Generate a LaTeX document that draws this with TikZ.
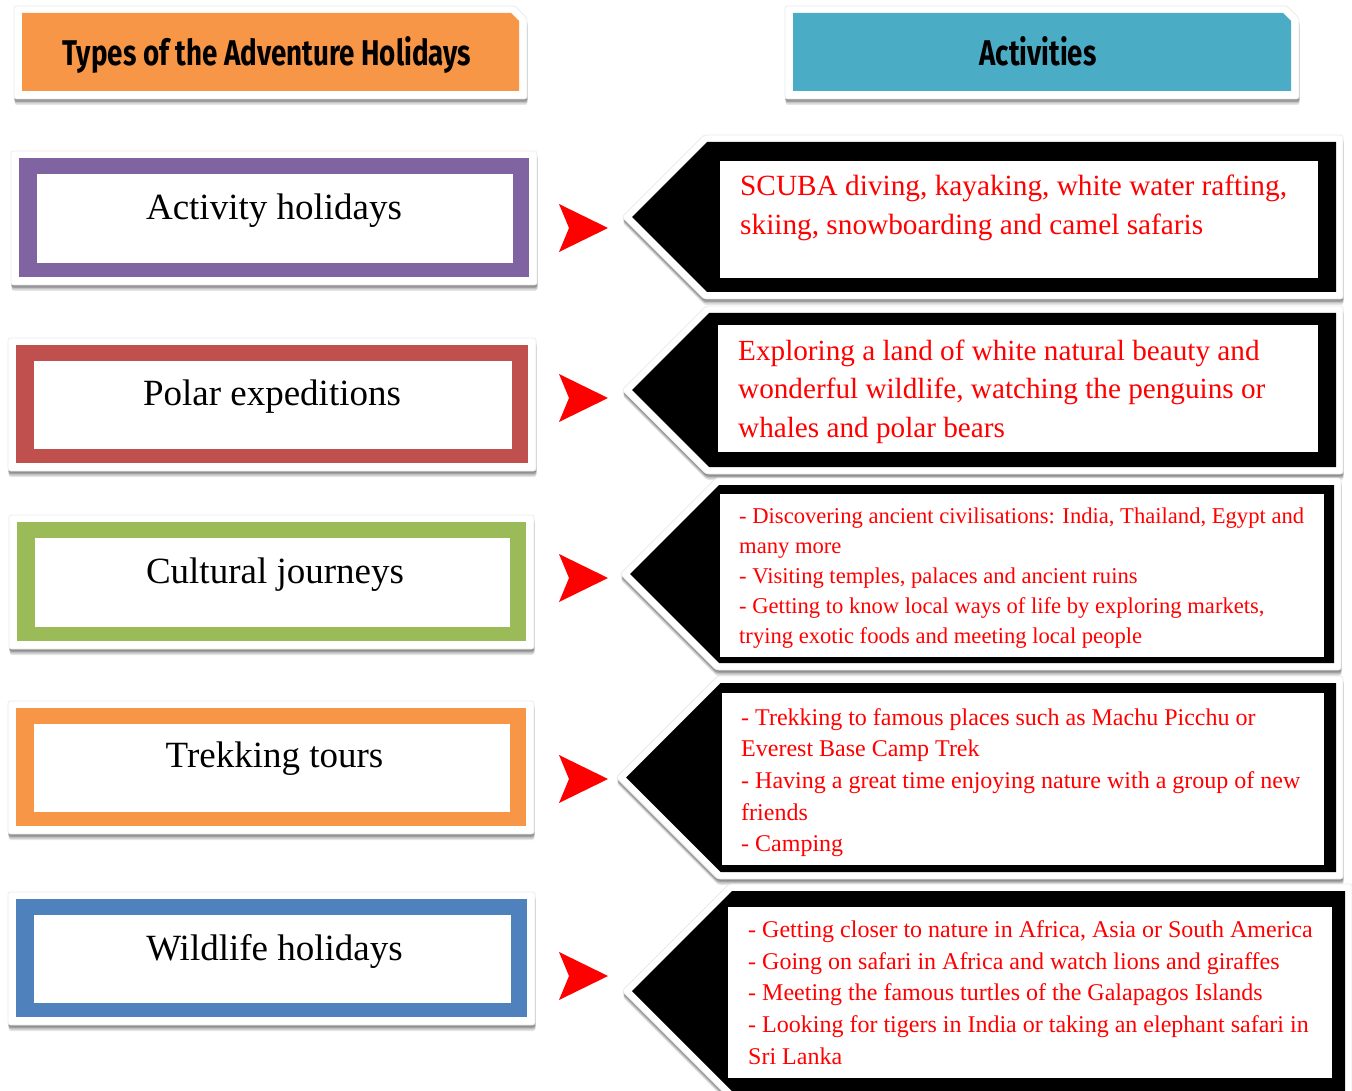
\documentclass[tikz,border=0pt]{standalone}
\usepackage{graphicx}
\usepackage{fontspec}
\setmainfont{Liberation Serif}
\newfontfamily\headfont{Fira Sans}
\usetikzlibrary{shadows}
\definecolor{hdorange}{HTML}{F79646}
\definecolor{hdblue}{HTML}{4BACC6}
\definecolor{cpurple}{HTML}{8064A2}
\definecolor{cred}{HTML}{C0504D}
\definecolor{cgreen}{HTML}{9BBB59}
\definecolor{corange}{HTML}{F79646}
\definecolor{cblue}{HTML}{4F81BD}
\definecolor{arrowred}{HTML}{FF0000}
\tikzset{
  framebox/.style={fill=white, draw=black!8, line width=0.8pt, rounded corners=2.5pt,
    drop shadow={shadow xshift=0.5pt, shadow yshift=-6pt, opacity=0.10, fill=black},
    drop shadow={shadow xshift=0.5pt, shadow yshift=-4.5pt, opacity=0.14, fill=black},
    drop shadow={shadow xshift=0.3pt, shadow yshift=-3pt, opacity=0.18, fill=black},
    drop shadow={shadow xshift=0.2pt, shadow yshift=-1.5pt, opacity=0.15, fill=black}},
  lefttext/.style={anchor=base, inner sep=0pt, font=\fontsize{37}{44}\selectfont},
  righttext/.style={anchor=base west, inner sep=0pt, text=arrowred},
  headtext/.style={anchor=base, inner sep=0pt},
  redhead/.style={fill=arrowred}
}
\newcommand{\linesof}[1]{\begin{tabular}[t]{@{}l@{}}#1\end{tabular}}
% left box: #1 colour, #2 x1 colored, #3 y1, #4 x2, #5 y2
\newcommand{\leftbox}[5]{%
  \path[framebox] ({#2-8},{#3-7}) rectangle ({#4+8},{#5+8});
  \fill[#1] (#2,#3) rectangle (#4,#5);
  \fill[white] ({#2+18},{#3+16}) rectangle ({#4-16},{#5-14});
}
% right box: #1 tip x, #2 top, #3 bottom, #4 right, #5 inner l, #6 inner t, #7 inner r, #8 inner b
\newcommand{\rightbox}[8]{%
  \pgfmathsetmacro{\rbmid}{(#2+#3)/2}
  \pgfmathsetmacro{\rbxl}{#1+(#3-#2)/2}
  \path[framebox] ({#1-10},\rbmid) -- ({\rbxl-3},{#2-7}) -- ({#4+7},{#2-7})
     -- ({#4+7},{#3+7}) -- ({\rbxl-3},{#3+7}) -- cycle;
  \fill[black] (#1,\rbmid) -- (\rbxl,#2) -- (#4,#2) -- (#4,#3) -- (\rbxl,#3) -- cycle;
  \fill[white] (#5,#6) rectangle (#7,#8);
}
\newcommand{\redarrow}[1]{%
  \fill[redhead] (559,{#1-24}) -- (608,#1) -- (559,{#1+24}) -- (569,#1) -- cycle;
}
\begin{document}
\begin{tikzpicture}[x=1pt,y=-1pt]
\useasboundingbox (0,0) rectangle (1352,1091);
\fill[white] (0,0) rectangle (1352,1091);

% headers
\path[framebox] (14,6) -- (515,6) -- (527,18) -- (527,99) -- (14,99) -- cycle;
\fill[hdorange] (22,13) -- (511,13) -- (519,21) -- (519,91) -- (22,91) -- cycle;
\node[headtext] (h1) at (267,66) {\resizebox{408pt}{29pt}{\headfont\bfseries Types of the Adventure Holidays}};

\path[framebox] (785,6) -- (1287,6) -- (1299,18) -- (1299,99) -- (785,99) -- cycle;
\fill[hdblue] (793,13) -- (1283,13) -- (1291,21) -- (1291,91) -- (793,91) -- cycle;
\node[headtext] (h2) at (1038,66) {\resizebox{117pt}{29pt}{\headfont\bfseries Activities}};

% left boxes
\leftbox{cpurple}{19}{158}{529}{277}
\node[lefttext] (t1) at (274,220) {Activity holidays};
\leftbox{cred}{16}{345}{528}{463}
\node[lefttext] (t2) at (272,405) {Polar expeditions};
\leftbox{cgreen}{17}{522}{526}{641}
\node[lefttext] (t3) at (275,583) {Cultural journeys};
\leftbox{corange}{16}{708}{526}{826}
\node[lefttext] (t4) at (274.5,767) {Trekking tours};
\leftbox{cblue}{16}{899}{527}{1017}
\node[lefttext] (t5) at (274.5,960) {Wildlife holidays};

% red arrow heads
\redarrow{228}
\redarrow{398}
\redarrow{578}
\redarrow{779}
\redarrow{976}

% right boxes
\rightbox{632}{142}{292}{1336}{720}{161}{1318}{278}
\node[righttext, font=\fontsize{29.3}{39}\selectfont] (a1) at (740,196)
  {\linesof{SCUBA diving, kayaking, white water rafting,\\skiing, snowboarding and camel safaris}};

\rightbox{632}{313}{467}{1336}{718}{325}{1318}{452}
\node[righttext, font=\fontsize{29.2}{38.5}\selectfont] (a2) at (738,360)
  {\linesof{Exploring a land of white natural beauty and\\wonderful wildlife, watching the penguins or\\whales and polar bears}};

\rightbox{630}{485}{663}{1334}{720}{494}{1324}{657}
\node[righttext, font=\fontsize{22.6}{30}\selectfont] (a3) at (739,523.5)
  {\linesof{- Discovering ancient civilisations: India, Thailand, Egypt and\\many more\\- Visiting temples, palaces and ancient ruins\\- Getting to know local ways of life by exploring markets,\\trying exotic foods and meeting local people}};

\rightbox{626}{683}{872}{1336}{722}{693}{1324}{865}
\node[righttext, font=\fontsize{24}{31.7}\selectfont] (a4) at (741,725)
  {\linesof{- Trekking to famous places such as Machu Picchu or\\Everest Base Camp Trek\\- Having a great time enjoying nature with a group of new\\friends\\- Camping}};

\rightbox{632}{891}{1091}{1345}{728}{907}{1332}{1078}
\node[righttext, font=\fontsize{24}{31.7}\selectfont] (a5) at (748,937.5)
  {\linesof{- Getting closer to nature in Africa, Asia or South America\\- Going on safari in Africa and watch lions and giraffes\\- Meeting the famous turtles of the Galapagos Islands\\- Looking for tigers in India or taking an elephant safari in\\Sri Lanka}};
\end{tikzpicture}
\end{document}
